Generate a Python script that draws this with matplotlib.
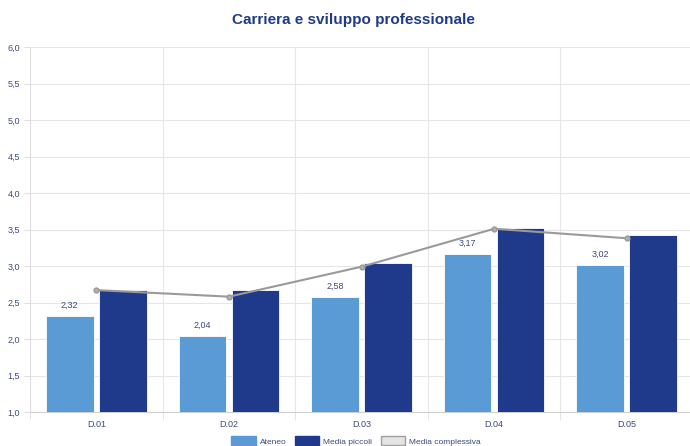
import matplotlib
matplotlib.use("Agg")
import matplotlib.pyplot as plt
import numpy as np
from matplotlib.patches import Patch

plt.rcParams["font.family"] = ["Liberation Sans", "DejaVu Sans"]

categories = ["D.01", "D.02", "D.03", "D.04", "D.05"]
ateneo = [2.32, 2.04, 2.58, 3.17, 3.02]
media_piccoli = [2.67, 2.67, 3.04, 3.52, 3.43]
media_complessiva = [2.67, 2.58, 2.99, 3.51, 3.38]
yticks = [1.0, 1.5, 2.0, 2.5, 3.0, 3.5, 4.0, 4.5, 5.0, 5.5, 6.0]

c_ateneo = "#5b9bd5"
c_piccoli = "#1f3a8a"
c_line = "#9a9a9a"
c_text = "#3b4a7a"

W, H = 690, 446
fig = plt.figure(figsize=(W/100, H/100), dpi=100)
ax = fig.add_axes([30/W, (H-412)/H, (693-30)/W, (412-47)/H])

x = np.arange(len(categories))
bw = 0.36
ax.bar(x - 0.2, ateneo, bw, color=c_ateneo, edgecolor="white", linewidth=0.6, zorder=3)
ax.bar(x + 0.2, media_piccoli, bw, color=c_piccoli, edgecolor="white", linewidth=0.6, zorder=3)
ax.plot(x, media_complessiva, color=c_line, linewidth=1.5, marker="o", markersize=3.5,
        markerfacecolor="#b0b0b0", markeredgecolor=c_line, zorder=4)

for xi, v in zip(x, ateneo):
    ax.text(xi - 0.2, v + 0.08, f"{v:.2f}".replace(".", ","), ha="center", va="bottom",
            fontsize=6.5, color=c_text, zorder=5)

ax.set_ylim(1.0, 6.0)
ax.set_xlim(-0.5, len(categories) - 0.5)
ax.set_yticks(yticks)
ax.set_yticklabels([f"{t:.1f}".replace(".", ",") for t in yticks], fontsize=6.5, color=c_text)
ax.set_xticks(x)
ax.set_xticklabels(categories, fontsize=6.5, color=c_text)
ax.tick_params(axis="x", length=0, pad=6)
ax.tick_params(axis="y", length=4, color="#e0e0e0", pad=3)
ax.set_xticks(np.arange(-0.5, len(categories), 1), minor=True)
ax.tick_params(axis="x", which="minor", length=6, color="#e0e0e0")
ax.grid(axis="y", color="#e6e6e6", linewidth=0.8, zorder=0)
ax.grid(axis="x", which="minor", color="#e6e6e6", linewidth=0.8, zorder=0)
ax.grid(axis="x", which="major", visible=False)
for s in ["top", "right"]:
    ax.spines[s].set_visible(False)
ax.spines["left"].set_color("#e0e0e0")
ax.spines["bottom"].set_color("#d0d0d0")
ax.set_axisbelow(True)

fig.text(353/W, (H-20)/H, "Carriera e sviluppo professionale", ha="center", va="center",
         fontsize=11, fontweight="bold", color=c_piccoli)

handles = [Patch(facecolor=c_ateneo, edgecolor=c_ateneo),
           Patch(facecolor=c_piccoli, edgecolor=c_piccoli),
           Patch(facecolor="#e4e4e4", edgecolor="#a0a0a0")]
leg = fig.legend(handles, ["Ateneo", "Media piccoli", "Media complessiva"], loc="center",
                 bbox_to_anchor=(356/W, (H-441)/H), ncol=3, frameon=False, fontsize=6,
                 handlelength=2.9, handleheight=1.2, columnspacing=1.0, handletextpad=0.5)
for t in leg.get_texts():
    t.set_color(c_text)

fig.savefig("out.png", dpi=100)
